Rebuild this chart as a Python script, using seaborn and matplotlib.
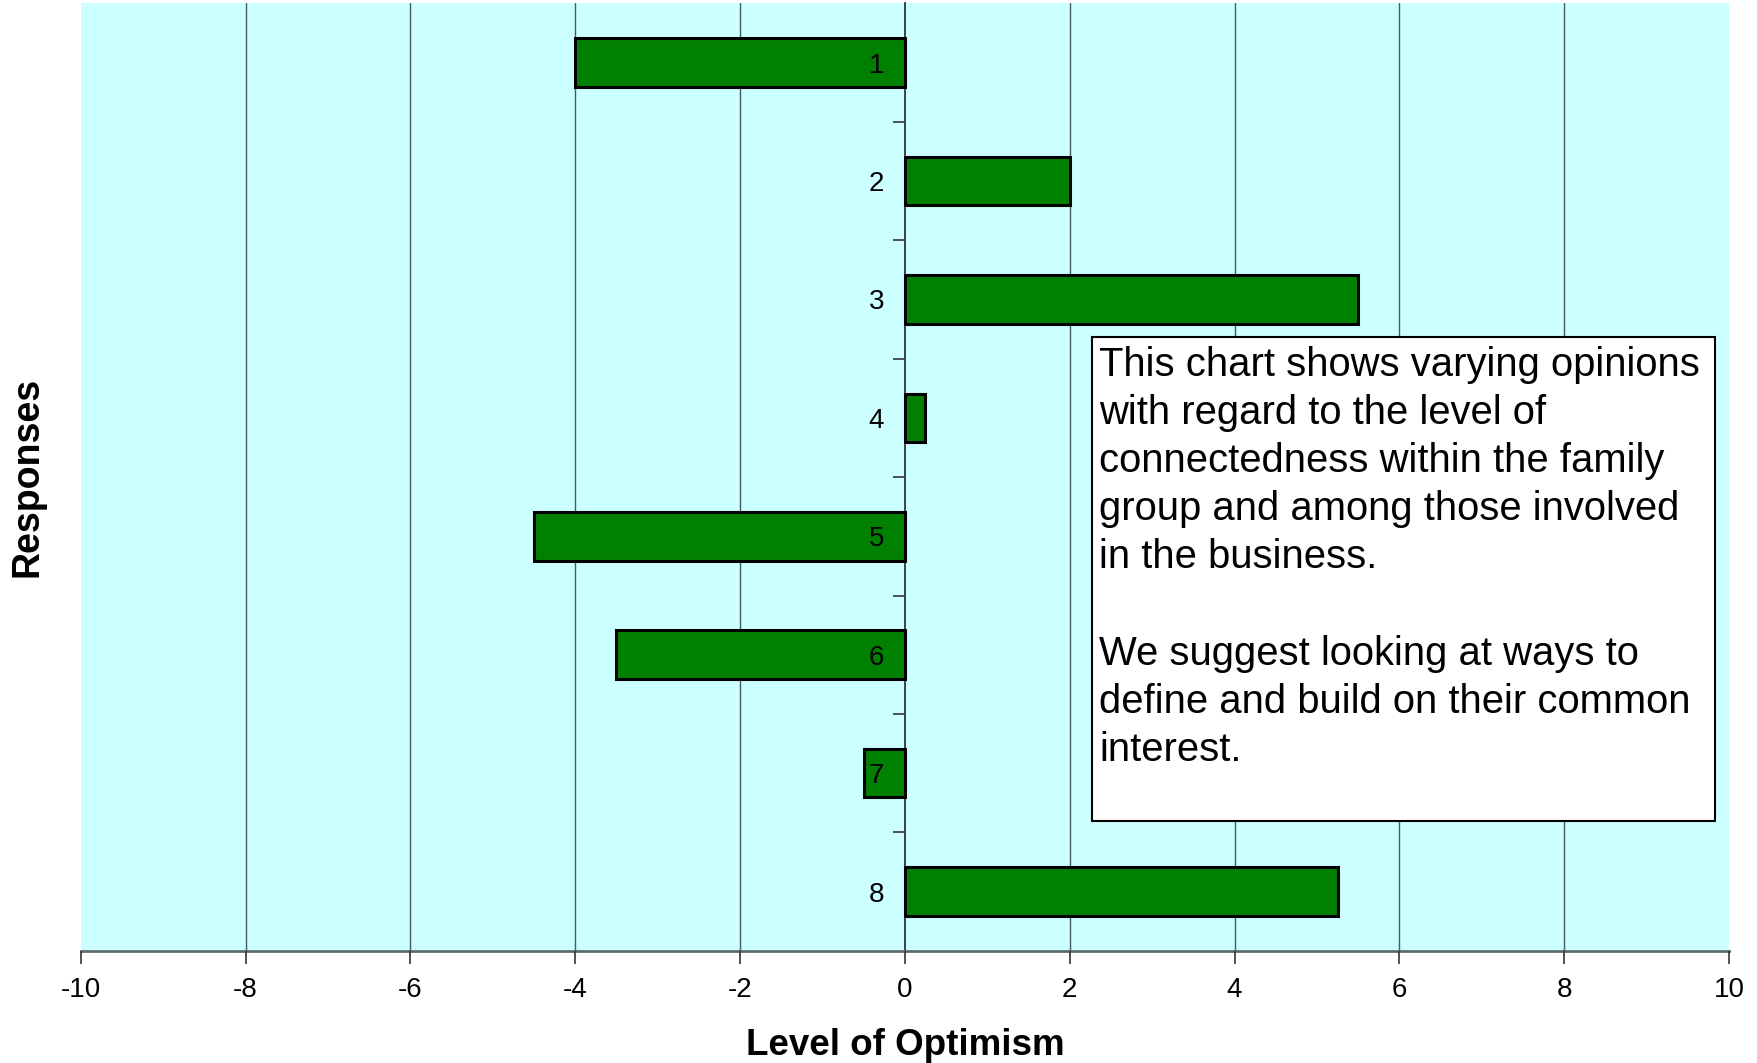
import matplotlib
matplotlib.use("Agg")
import matplotlib.pyplot as plt
from matplotlib.patches import Rectangle
from matplotlib.ticker import FixedLocator
import seaborn as sns
import pandas as pd

# Survey responses and their optimism scores
responses = ["1", "2", "3", "4", "5", "6", "7", "8"]
optimism = [-4.0, 2.0, 5.5, 0.25, -4.5, -3.5, -0.5, 5.25]
x_ticks = [-10, -8, -6, -4, -2, 0, 2, 4, 6, 8, 10]

note_lines = [
    "This chart shows varying opinions",
    "with regard to the level of",
    "connectedness within the family",
    "group and among those involved",
    "in the business.",
    "",
    "We suggest looking at ways to",
    "define and build on their common",
    "interest.",
]

sns.set_theme(style="white")
plt.rcParams["font.family"] = ["Liberation Sans", "DejaVu Sans"]
plt.rcParams["text.color"] = "black"
plt.rcParams["axes.labelcolor"] = "black"
plt.rcParams["xtick.color"] = "black"
plt.rcParams["ytick.color"] = "black"

df = pd.DataFrame({"Response": responses, "Optimism": optimism})

fig = plt.figure(figsize=(17.58, 10.63), dpi=100)
ax = fig.add_axes([0.0459, 0.1055, 0.9376, 0.8913])
ax.set_facecolor("#CCFFFF")

sns.barplot(data=df, x="Optimism", y="Response", order=responses, orient="h",
            color="#008000", saturation=1, edgecolor="black", linewidth=2.2,
            width=0.41, ax=ax, zorder=2)

ax.set_xlim(-10, 10)
ax.set_ylim(7.5, -0.5)

# vertical gridlines at each major x tick
ax.set_xticks(x_ticks)
ax.set_xticklabels([str(t) for t in x_ticks])
for t in x_ticks[1:-1]:
    if t != 0:
        ax.axvline(t, color="#4a5858", linewidth=1.0, zorder=0.6)

# value axis crosses at zero
for s in ("top", "right"):
    ax.spines[s].set_visible(False)
ax.spines["left"].set_position(("data", 0))
ax.spines["left"].set_color("#333333")
ax.spines["left"].set_linewidth(1.3)
ax.spines["left"].set_zorder(1.8)
ax.spines["bottom"].set_color("#5c6c6c")
ax.spines["bottom"].set_linewidth(2.0)

ax.tick_params(axis="x", which="major", direction="out", length=9, width=1.2,
               color="#333333", labelsize=20, pad=10, bottom=True)
ax.tick_params(axis="y", which="major", length=0, labelsize=20, pad=15, left=True)
ax.yaxis.set_minor_locator(FixedLocator([0.5, 1.5, 2.5, 3.5, 4.5, 5.5, 6.5]))
ax.tick_params(axis="y", which="minor", direction="out", length=9, width=1.2,
               color="#333333", left=True)
ax.yaxis.set_zorder(3)
ax.xaxis.set_zorder(3)
for lbl in ax.get_yticklabels() + ax.get_xticklabels():
    lbl.set_color("black")

ax.set_xlabel("Level of Optimism", fontsize=26.5, fontweight="bold", labelpad=18)
ax.set_ylabel("")
fig.text(0.0158, 0.5515, "Responses", rotation=90, fontsize=27, fontweight="bold",
         ha="center", va="center")

# annotation box
ax.add_patch(Rectangle((0.6136, 0.1373), 0.3782, 0.5101, transform=ax.transAxes,
                       facecolor="white", edgecolor="black", linewidth=1.5, zorder=4))
ax.text(0.6178, 0.6385, "\n".join(note_lines), transform=ax.transAxes,
        ha="left", va="top", fontsize=28.8, linespacing=1.338, zorder=5)

fig.savefig("out.png", dpi=100)
